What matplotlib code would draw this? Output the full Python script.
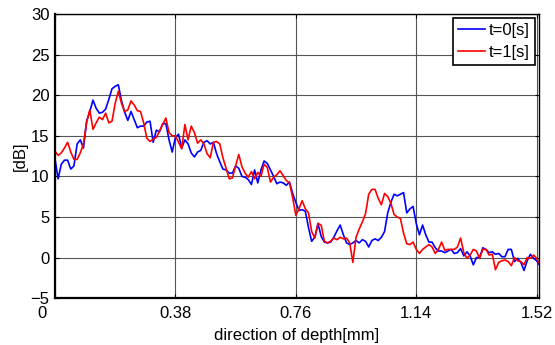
"""
Depth profile at t=0 and t=1 (reference chart recreation)
"""

import numpy as np
import matplotlib
matplotlib.use('Agg')
import matplotlib.pyplot as plt
import matplotlib.transforms as mtransforms

# depth axis, step 0.01 mm
depth = np.round(np.arange(154) * 0.01, 2)

# t=0[s]
db_t0 = [
    12.2, 9.7, 11.5, 12.0, 12.0, 10.9, 11.3, 14.0, 14.5, 13.5,
    16.8, 18.0, 19.4, 18.4, 17.8, 17.9, 18.3, 19.5, 20.8, 21.1,
    21.3, 19.3, 17.9, 16.9, 18.0, 17.0, 16.0, 16.2, 16.2, 16.7,
    16.8, 14.2, 15.7, 15.5, 16.5, 16.5, 14.5, 13.0, 14.8, 15.2,
    13.5, 14.5, 14.0, 12.9, 12.4, 13.0, 13.2, 14.2, 14.4, 14.0,
    14.2, 12.8, 11.8, 10.9, 10.8, 10.4, 10.4, 11.3, 11.0, 10.0,
    9.9, 9.6, 9.0, 10.8, 9.2, 10.8, 11.9, 11.6, 10.8, 10.0,
    9.1, 9.3, 9.2, 8.9, 9.3, 7.9, 6.8, 5.8, 5.9, 5.7,
    3.7, 2.0, 2.5, 4.2, 2.6, 1.9, 1.8, 1.9, 2.5, 3.3,
    4.0, 2.8, 1.8, 1.6, 1.8, 2.1, 1.8, 2.2, 2.0, 1.3,
    2.1, 2.3, 2.1, 2.5, 3.2, 5.5, 6.8, 7.8, 7.6, 7.8,
    8.0, 5.5, 6.0, 6.3, 4.2, 2.8, 4.0, 2.8, 1.9, 1.9,
    1.2, 0.8, 0.8, 0.6, 0.8, 1.0, 0.5, 0.6, 1.1, 0.2,
    0.7, 0.2, -0.9, 0.0, 0.0, 1.2, 1.0, 0.6, 0.7, 0.4,
    0.5, 0.1, 0.1, 1.0, 1.0, -0.5, -0.1, -0.6, -1.6, -0.4,
    0.4, -0.1, -0.4, -1.0,
]

# t=1[s]
db_t1 = [
    13.1, 12.6, 12.9, 13.5, 14.2, 13.0, 12.1, 12.1, 12.9, 14.0,
    16.7, 18.2, 15.8, 16.6, 17.3, 17.0, 17.8, 16.6, 16.8, 19.0,
    20.5, 19.0, 18.0, 18.2, 19.3, 18.8, 18.1, 18.0, 16.6, 14.7,
    14.3, 14.6, 14.8, 15.6, 16.4, 17.2, 15.4, 15.0, 15.0, 14.2,
    13.4, 16.4, 14.5, 16.2, 15.4, 14.1, 14.5, 14.0, 12.8, 12.3,
    14.2, 14.3, 14.0, 12.3, 11.0, 9.7, 9.8, 11.3, 12.7, 11.2,
    10.4, 9.9, 10.6, 9.7, 10.5, 10.0, 11.5, 11.1, 9.3, 9.9,
    10.2, 10.7, 10.1, 9.5, 9.2, 7.4, 5.2, 6.0, 7.0, 6.0,
    5.5, 3.2, 2.4, 4.2, 4.0, 2.0, 1.8, 2.0, 2.4, 2.2,
    2.5, 2.3, 2.4, 1.8, -0.6, 2.5, 3.5, 4.4, 5.4, 7.8,
    8.4, 8.4, 7.3, 6.5, 7.9, 7.5, 6.7, 5.3, 5.0, 4.8,
    3.0, 1.7, 1.6, 1.9, 1.0, 0.5, 1.0, 1.3, 1.6, 1.3,
    0.5, 1.0, 1.9, 0.9, 1.0, 1.0, 1.0, 1.3, 2.4, 0.6,
    -0.1, 0.3, 1.0, 0.8, -0.1, 1.0, 1.0, 0.3, 0.4, -1.5,
    -0.6, -0.4, -0.3, -0.5, -1.0, 0.0, -0.4, -0.5, -0.9, 0.0,
    -0.1, 0.3, -0.1, -0.8,
]

x_ticks = [0, 0.38, 0.76, 1.14, 1.52]
x_labels = ['0', '0.38', '0.76', '1.14', '1.52']
y_ticks = [-5, 0, 5, 10, 15, 20, 25, 30]

plt.rcParams['font.family'] = ['Liberation Sans', 'DejaVu Sans']

fig = plt.figure(figsize=(5.55, 3.45), dpi=100)
ax = fig.add_axes([0.099, 0.136, 0.872, 0.823])

ax.plot(depth, db_t0, color='#0000ff', lw=1.2, label='t=0[s]')
ax.plot(depth, db_t1, color='#ff0000', lw=1.2, label='t=1[s]')

ax.set_xlim(0, 1.527)
ax.set_ylim(-5, 30)
ax.set_xticks(x_ticks)
ax.set_xticklabels(x_labels)
ax.set_yticks(y_ticks)
ax.set_yticklabels(['\u22125' if v < 0 else str(v) for v in y_ticks])

ax.grid(True, color='#555555', lw=0.8)
ax.tick_params(axis='both', direction='in', length=3, top=True, right=True,
               labelsize=12, colors='black')
ax.tick_params(axis='x', pad=6)
ax.tick_params(axis='y', pad=4)
for side in ['left', 'bottom']:
    ax.spines[side].set_linewidth(1.6)
for side in ['top', 'right']:
    ax.spines[side].set_linewidth(1.0)

# nudge the "0" label left so it clears the -5 label
zero_lbl = ax.xaxis.get_major_ticks()[0].label1
zero_lbl.set_transform(zero_lbl.get_transform() +
                       mtransforms.ScaledTranslation(-13 / 100, 0, fig.dpi_scale_trans))

ax.set_ylabel('[dB]', fontsize=12, labelpad=2)
ax.set_xlabel('direction of depth[mm]', fontsize=12, labelpad=5)

leg = ax.legend(loc='upper right', fontsize=12, fancybox=False,
                framealpha=1, edgecolor='black', borderpad=0.3,
                handlelength=1.6, handletextpad=0.25, labelspacing=0.4,
                borderaxespad=0.25)
leg.get_frame().set_linewidth(1.2)

fig.savefig('out.png', dpi=100)
